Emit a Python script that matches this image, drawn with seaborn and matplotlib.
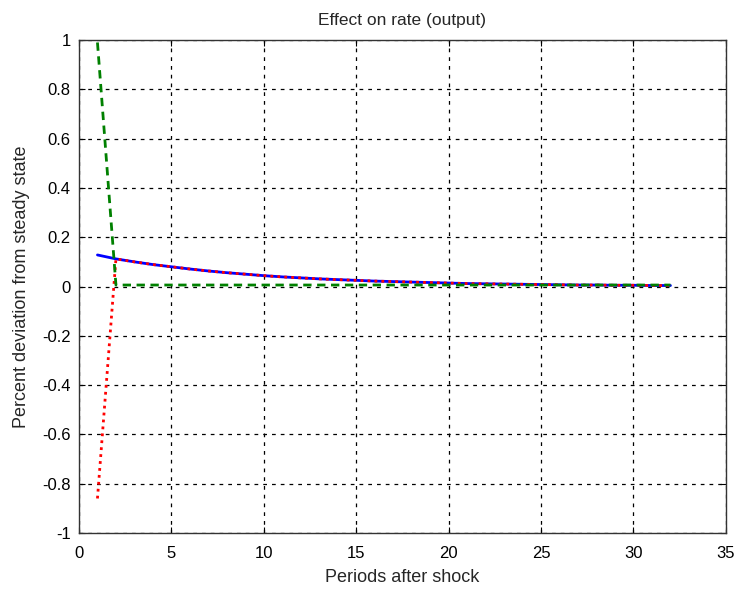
import numpy as np
import pandas as pd
import matplotlib
matplotlib.use("Agg")
import matplotlib.pyplot as plt
import seaborn as sns

periods = list(range(1, 33))
total = [0.128, 0.112, 0.100, 0.089, 0.080, 0.071, 0.063, 0.056, 0.050, 0.044,
         0.039, 0.035, 0.031, 0.028, 0.025, 0.022, 0.020, 0.018, 0.016, 0.014,
         0.012, 0.011, 0.010, 0.009, 0.008, 0.007, 0.006, 0.006, 0.005, 0.005,
         0.004, 0.004]
endog = [-0.86, 0.112, 0.100, 0.089, 0.080, 0.071, 0.063, 0.056, 0.050, 0.044,
         0.039, 0.035, 0.031, 0.028, 0.025, 0.022, 0.020, 0.018, 0.016, 0.014,
         0.012, 0.011, 0.010, 0.009, 0.008, 0.007, 0.006, 0.006, 0.005, 0.005,
         0.004, 0.004]
shock = [0.99] + [0.006] * 31

xticks = [0, 5, 10, 15, 20, 25, 30, 35]
yticks = [-1, -0.8, -0.6, -0.4, -0.2, 0, 0.2, 0.4, 0.6, 0.8, 1]
ytick_labels = ["-1", "-0.8", "-0.6", "-0.4", "-0.2", "0", "0.2", "0.4", "0.6", "0.8", "1"]

sns.set_style("white")
plt.rcParams['font.family'] = ['Liberation Sans', 'DejaVu Sans']

fig = plt.figure(figsize=(7.36, 5.90), dpi=100)
ax = fig.add_axes([0.1073, 0.0966, 0.879, 0.8356])

df = pd.DataFrame({"t": periods, "total": total, "endog": endog, "shock": shock})
sns.lineplot(data=df, x="t", y="total", ax=ax, color="#0000ff", linewidth=2, linestyle="-")
sns.lineplot(data=df, x="t", y="endog", ax=ax, color="#ff0000", linewidth=2, linestyle=(0, (1, 1.5)))
sns.lineplot(data=df, x="t", y="shock", ax=ax, color="#008000", linewidth=2, linestyle=(0, (3, 2)))

ax.set_xlim(0, 35)
ax.set_ylim(-1, 1)
ax.set_xticks(xticks)
ax.set_yticks(yticks)
ax.set_yticklabels(ytick_labels)
ax.grid(True, color="black", linestyle=(0, (3, 4)), linewidth=0.9)
ax.set_axisbelow(True)
for s in ax.spines.values():
    s.set_color("#333333")
    s.set_linewidth(1.0)
ax.tick_params(axis="both", direction="in", length=4, labelsize=12, colors="black",
               left=True, bottom=True, top=True, right=True)
ax.tick_params(axis="x", pad=9)
ax.tick_params(axis="y", pad=6)
ax.set_title("Effect on rate (output)", fontsize=12.5, pad=11)
ax.set_xlabel("Periods after shock", fontsize=13, labelpad=6)
ax.set_ylabel("Percent deviation from steady state", fontsize=13, labelpad=9)

fig.savefig("out.png", dpi=100, facecolor="white")
